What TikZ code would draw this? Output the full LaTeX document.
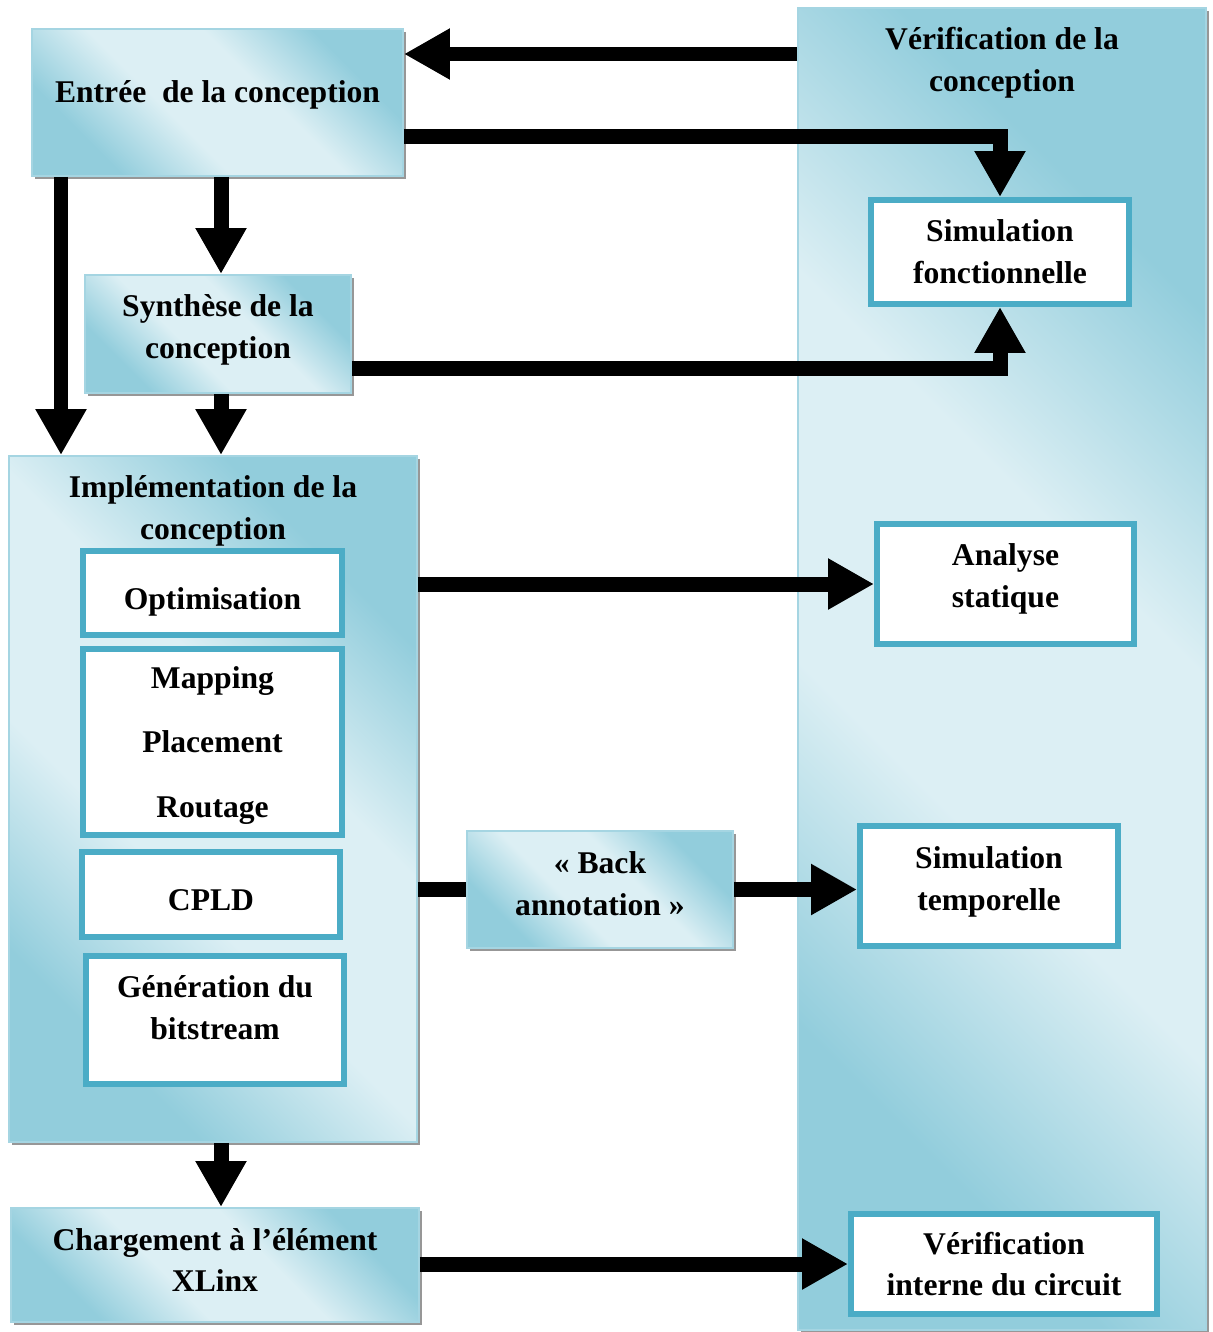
\documentclass[tikz,border=0pt]{standalone}
\usepackage{fontspec}
\setmainfont{Liberation Serif}
\usepackage{tikz}
\usetikzlibrary{arrows,arrows.meta,calc,positioning,shadows,shapes}

\definecolor{aclight}{RGB}{220,239,244}
\definecolor{acdark}{RGB}{146,205,220}
\definecolor{acteal}{RGB}{75,172,198}
\definecolor{acedge}{RGB}{165,213,226}
\pgfdeclareverticalshading{diagblue}{100bp}{color(0bp)=(acdark); color(27bp)=(acdark); color(42bp)=(aclight); color(58bp)=(aclight); color(73bp)=(acdark); color(100bp)=(acdark)}

\begin{document}
\begin{tikzpicture}[auto,x=0.02cm,y=-0.02cm,>={Triangle[length=0.92cm,width=0.96cm]},font=\bfseries\fontsize{18}{23.8}\selectfont]
	\tikzstyle{shadedblock} = [draw=acedge, line width=0.04cm, rectangle, align=center, shading=diagblue, shading angle=-45, drop shadow={shadow xshift=0.06cm, shadow yshift=-0.06cm, fill=black!45, opacity=0.9}]
	\tikzstyle{whiteblock} = [draw=acteal, line width=0.12cm, rectangle, fill=white, align=center]
	\tikzstyle{link} = [line width=0.3cm]

	\useasboundingbox (0,0) rectangle (1213,1332);

	% grands cadres
	\node [shadedblock, minimum width=8.16cm, minimum height=26.44cm, label={[anchor=north, align=center, inner sep=0.333em, label distance=-0.28cm]north:{Vérification de la\\conception}}] (verif) at (1002,669) {};
	\node [shadedblock, minimum width=8.16cm, minimum height=13.72cm, label={[anchor=north, align=center, inner sep=0.333em, label distance=-0.28cm]north:{Implémentation de la\\conception}}] (impl) at (213,799) {};

	\node [shadedblock, minimum width=7.42cm, minimum height=2.94cm, text depth=0.42cm] (entree) at (217.5,102.5) {Entrée~~de la conception};
	\node [shadedblock, minimum width=5.32cm, minimum height=2.36cm, text depth=0.3cm] (synth) at (218,334) {Synthèse de la\\conception};
	\node [shadedblock, minimum width=5.32cm, minimum height=2.34cm, text depth=0.24cm] (back) at (600,889.5) {« Back\\annotation »};
	\node [shadedblock, minimum width=8.16cm, minimum height=2.28cm, text depth=0.2cm] (charg) at (215,1265) {Chargement à l’élément\\XLinx};

	% etapes
	\node [whiteblock, minimum width=5.16cm, minimum height=2.08cm] (sf) at (1000,252) {Simulation\\fonctionnelle};
	\node [whiteblock, minimum width=5.18cm, minimum height=1.68cm, text height=0.8cm] (optim) at (212.5,593) {Optimisation};
	\node [whiteblock, minimum width=5.18cm, minimum height=3.72cm, text depth=0cm] (mapping) at (212.5,742) {Mapping\\[0.45cm]Placement\\[0.45cm]Routage};
	\node [whiteblock, minimum width=5.16cm, minimum height=1.70cm, text height=0.63cm] (cpld) at (211,894.5) {CPLD};
	\node [whiteblock, minimum width=5.16cm, minimum height=2.56cm, text depth=0.5cm] (gen) at (215,1020) {Génération du\\bitstream};
	\node [whiteblock, minimum width=5.14cm, minimum height=2.40cm, text depth=0.34cm] (analyse) at (1005.5,584) {Analyse\\statique};
	\node [whiteblock, minimum width=5.16cm, minimum height=2.40cm, text depth=0.3cm] (simtemp) at (989,886) {Simulation\\temporelle};
	\node [whiteblock, minimum width=6.12cm, minimum height=2.00cm] (verifint) at (1004,1264) {Vérification\\interne du circuit};

	\draw [link,->] (verif.west |- 0,54) -- (entree.east |- 0,54);
	\draw [link,->] (entree.east |- 0,136) -| (sf.north);
	\draw [link,->] (entree.south -| 221,0) -- (synth.north -| 221,0);
	\draw [link,->] (entree.south -| 61,0) -- (impl.north -| 61,0);
	\draw [link,->] (synth.south -| 221,0) -- (impl.north -| 221,0);
	\draw [link,->] (synth.east |- 0,368) -| (sf.south);
	\draw [link,->] (impl.east |- analyse.west) -- (analyse.west);
	\draw [link] (impl.east |- back.west) -- (back.west);
	\draw [link,->] (back.east) -- (simtemp.west |- back.east);
	\draw [link,->] (impl.south -| 221,0) -- (charg.north -| 221,0);
	\draw [link,->] (charg.east |- verifint.west) -- (verifint.west);
\end{tikzpicture}
\end{document}
